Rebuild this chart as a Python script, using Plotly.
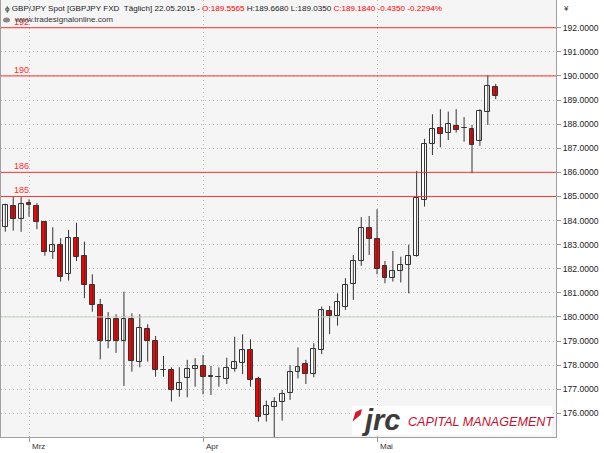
import plotly.graph_objects as go
import pandas as pd

# ---- data ----
dates = [d.strftime("%Y-%m-%d") for d in pd.bdate_range("2015-02-25", "2015-05-22")]

opens = [183.75, 184.62, 184.07, 184.74, 184.62, 183.93, 182.71, 182.99, 181.77, 183.29,
         182.53, 181.33, 180.50, 179.00, 179.90, 179.02, 179.90, 178.15, 179.49, 179.02,
         177.81, 177.80, 176.97, 177.48, 177.83, 177.98, 177.53, 177.52, 177.41, 177.83,
         178.08, 178.63, 177.41, 175.93, 176.28, 176.46, 176.83, 177.73, 178.05, 177.62,
         178.63, 180.26, 180.04, 180.40, 181.36, 182.32, 183.71, 183.24, 182.13, 181.61,
         181.92, 182.16, 182.55, 184.86, 187.17, 187.86, 187.62, 187.94, 187.84, 187.80,
         187.32, 188.51, 189.5565]
highs = [184.70, 185.02, 184.97, 184.88, 184.72, 183.97, 183.72, 183.27, 183.61, 183.91,
         183.13, 181.77, 180.75, 180.20, 180.11, 181.05, 180.15, 180.11, 179.70, 179.21,
         178.38, 177.91, 177.91, 178.22, 178.29, 178.42, 177.97, 177.91, 178.31, 179.18,
         179.28, 179.07, 177.52, 176.53, 176.67, 176.97, 178.00, 178.74, 178.22, 178.91,
         180.43, 180.46, 180.98, 181.61, 182.57, 184.14, 184.19, 184.47, 182.32, 182.74,
         182.50, 183.00, 186.06, 187.39, 188.41, 188.62, 188.52, 188.62, 188.29, 187.97,
         188.62, 190.04, 189.6680]
lows = [183.54, 183.58, 183.53, 184.16, 183.64, 182.54, 182.41, 181.47, 181.51, 182.32,
        180.78, 180.22, 178.24, 178.70, 178.51, 177.14, 177.73, 177.91, 178.15, 177.52,
        177.52, 176.49, 176.69, 176.67, 177.11, 176.79, 176.76, 177.11, 177.22, 177.73,
        177.63, 177.11, 175.66, 175.66, 175.00, 175.70, 176.56, 177.45, 177.22, 177.50,
        178.46, 179.29, 179.64, 180.29, 180.71, 182.12, 182.57, 181.77, 181.40, 181.47,
        181.43, 180.98, 182.50, 184.58, 186.72, 187.04, 187.34, 187.65, 187.27, 185.96,
        187.10, 187.97, 189.0350]
closes = [184.65, 184.07, 184.69, 184.63, 183.94, 182.71, 182.99, 181.65, 183.29, 182.50,
          181.33, 180.50, 179.00, 179.90, 179.02, 179.90, 178.17, 179.56, 179.02, 177.80,
          177.79, 176.97, 177.27, 177.83, 177.97, 177.50, 177.52, 177.51, 177.87, 178.15,
          178.63, 177.39, 175.86, 176.31, 176.46, 176.79, 177.73, 177.94, 177.63, 178.66,
          180.29, 180.04, 180.64, 181.33, 182.32, 183.71, 183.24, 181.98, 181.61, 181.92,
          182.15, 182.55, 184.95, 187.17, 187.79, 187.58, 188.01, 187.76, 187.82, 187.12,
          188.55, 189.60, 189.1840]

price_ticks = [176, 177, 178, 179, 180, 181, 182, 183, 184, 185, 186, 187, 188, 189, 190, 191, 192]
level_lines = [192, 190, 186, 185]
level_labels = ["192", "190", "186", "185"]
mid_line = 180
month_ticks = ["2015-03-02", "2015-04-01", "2015-05-01"]
month_labels = ["Mrz", "Apr", "Mai"]

title_plain = "ϕ GBP/JPY Spot [GBPJPY FXD  Täglich] 22.05.2015 - "
title_o = "O:189.5565"
title_hl = " H:189.6680 L:189.0350 "
title_c = "C:189.1840 -0.4350 -0.2294%"

# ---- layout geometry (pixels) ----
W, H = 604, 453
ML, MR, MT, MB = 1, 48, 0, 16
PW, PH = W - ML - MR, H - MT - MB

def px(x):
    return (x - ML) / PW

def py(y):
    return 1 - (y - MT) / PH

FONT = "Liberation Sans, Arial, sans-serif"
RED = "#ff0000"
LINE_RED = "#ff3030"
DARK = "#333333"
GRID_DASH = "1px,3px"

fig = go.Figure()

# wicks
wx, wy = [], []
for d, hi, lo in zip(dates, highs, lows):
    wx += [d, d, None]
    wy += [lo, hi, None]
fig.add_trace(go.Scatter(x=wx, y=wy, mode="lines",
                         line=dict(color=DARK, width=1),
                         hoverinfo="skip", showlegend=False))

# bodies
base = [min(o, c) for o, c in zip(opens, closes)]
height = [max(abs(c - o), 0.012) for o, c in zip(opens, closes)]
colors = [RED if c < o else "#ffffff" for o, c in zip(opens, closes)]
fig.add_trace(go.Bar(x=dates, y=height, base=base, width=0.62,
                     marker=dict(color=colors, line=dict(color=DARK, width=1)),
                     showlegend=False))

shapes = []
annotations = []
for lv, lab in zip(level_lines, level_labels):
    shapes.append(dict(type="line", xref="paper", x0=0, x1=1, yref="y", y0=lv, y1=lv,
                       line=dict(color=LINE_RED, width=1), layer="above"))
    annotations.append(dict(text=lab, xref="paper", x=px(12), xanchor="left",
                            yref="y", y=lv, yanchor="bottom", yshift=-1,
                            showarrow=False, font=dict(family=FONT, size=9, color=LINE_RED)))
shapes.append(dict(type="line", xref="paper", x0=0, x1=1, yref="y", y0=mid_line, y1=mid_line,
                   line=dict(color="#c2d4c2", width=1), layer="above"))

# logo box
shapes.append(dict(type="rect", xref="paper", yref="paper",
                   x0=px(352), x1=px(552), y0=py(435), y1=py(406),
                   fillcolor="#ffffff", line=dict(width=0), layer="above"))
flag = [(352.5, 421.5), (355.5, 412), (362, 409), (360.5, 415)]
path = "M " + " L ".join(f"{px(a):.5f},{py(b):.5f}" for a, b in flag) + " Z"
shapes.append(dict(type="path", xref="paper", yref="paper", path=path,
                   fillcolor="#d7182a", line=dict(width=0), layer="above"))
# eye icon
shapes.append(dict(type="circle", xref="paper", yref="paper",
                   x0=px(3), x1=px(10), y0=py(22.5), y1=py(17.5),
                   fillcolor="#888888", line=dict(width=0), layer="above"))

annotations.append(dict(text="jrc", xref="paper", yref="paper", x=px(359), y=py(420),
                        xanchor="left", yanchor="middle", showarrow=False,
                        font=dict(family="Liberation Sans, Arial", size=29, color="#3c3c3c",
                                  weight="bold", style="italic")))
annotations.append(dict(text="CAPITAL MANAGEMENT", xref="paper", yref="paper",
                        x=px(406), y=py(421.5), xanchor="left", yanchor="middle",
                        showarrow=False,
                        font=dict(family="Liberation Sans, Arial",
                                  size=12.6, color="#c8102e", style="italic")))

title_html = (f"{title_plain}<span style='color:{RED}'>{title_o}</span>{title_hl}"
              f"<span style='color:{RED}'>{title_c}</span>")
annotations.append(dict(text=title_html, xref="paper", yref="paper", x=px(3), y=py(8),
                        xanchor="left", yanchor="middle", showarrow=False,
                        font=dict(family=FONT, size=8.1, color="#222222")))
annotations.append(dict(text="www.tradesignalonline.com", xref="paper", yref="paper",
                        x=px(12), y=py(20), xanchor="left", yanchor="middle", showarrow=False,
                        font=dict(family=FONT, size=8.1, color="#333333")))
annotations.append(dict(text="¥", xref="paper", yref="paper", x=px(561), y=py(8),
                        xanchor="left", yanchor="middle", showarrow=False,
                        font=dict(family=FONT, size=8, color="#333333")))
# month labels just right of their ticks
for d, lab in zip(month_ticks, month_labels):
    annotations.append(dict(text=lab, xref="x", x=d, yref="paper", y=py(447),
                            xanchor="left", yanchor="middle", xshift=1, showarrow=False,
                            font=dict(family=FONT, size=8, color="#333333")))

fig.update_layout(
    width=W, height=H,
    margin=dict(l=ML, r=MR, t=MT, b=MB, autoexpand=False),
    paper_bgcolor="#ffffff", plot_bgcolor="#f5f5f5",
    bargap=0, showlegend=False,
    shapes=shapes, annotations=annotations,
    font=dict(family=FONT, size=9, color="#222222"),
    xaxis=dict(type="category", range=[-0.544, 69.62], fixedrange=True, automargin=False,
               tickmode="array", tickvals=month_ticks, ticktext=month_labels,
               showticklabels=False,
               ticks="outside", ticklen=4, tickcolor="#999999",
               showgrid=True, griddash=GRID_DASH, gridcolor="#b8b8b8", gridwidth=1,
               showline=True, linecolor="#a0a0a0", linewidth=1, mirror=True,
               zeroline=False),
    yaxis=dict(side="right", range=[175.02, 193.15], fixedrange=True, automargin=False,
               tickmode="array", tickvals=price_ticks, tickformat=".4f",
               ticks="outside", ticklen=4, tickcolor="#999999",
               tickfont=dict(family=FONT, size=8.6, color="#222222"),
               showgrid=True, griddash=GRID_DASH, gridcolor="#b8b8b8", gridwidth=1,
               showline=True, linecolor="#a0a0a0", linewidth=1, mirror=True,
               zeroline=False),
)

fig.write_html("out.html", config={"displayModeBar": False},
               post_script="document.body.style.margin='0';document.body.style.overflow='hidden';")
